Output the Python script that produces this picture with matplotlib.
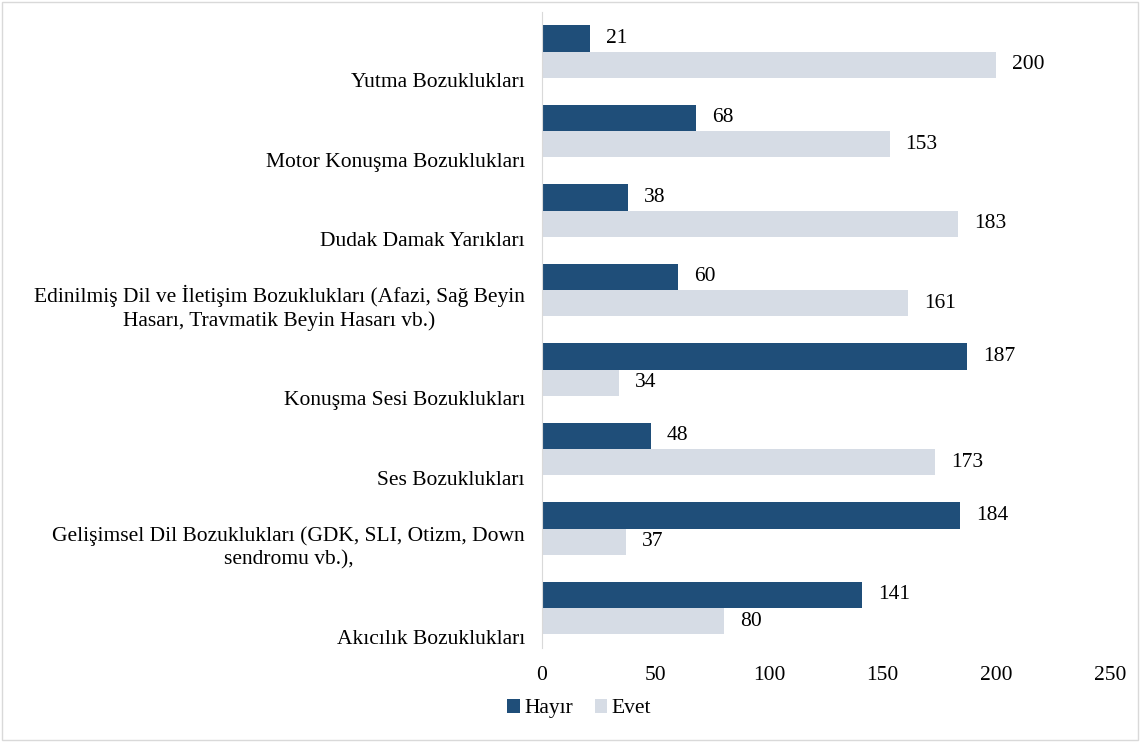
import matplotlib.pyplot as plt
import matplotlib.transforms as mtransforms
from matplotlib.patches import Rectangle

# Kategoriler (alttan üste)
kategoriler = [
    "Akıcılık Bozuklukları",
    "Gelişimsel Dil Bozuklukları (GDK, SLI, Otizm, Down\nsendromu vb.),",
    "Ses Bozuklukları",
    "Konuşma Sesi Bozuklukları",
    "Edinilmiş Dil ve İletişim Bozuklukları (Afazi, Sağ Beyin\nHasarı, Travmatik Beyin Hasarı vb.)",
    "Dudak Damak Yarıkları",
    "Motor Konuşma Bozuklukları",
    "Yutma Bozuklukları",
]
hayir = [141, 184, 48, 187, 60, 38, 68, 21]
evet = [80, 37, 173, 34, 161, 183, 153, 200]
x_ticks = [0, 50, 100, 150, 200, 250]

plt.rcParams['font.family'] = ['Liberation Serif', 'DejaVu Serif']
plt.rcParams['font.size'] = 15.5

fig = plt.figure(figsize=(11.4, 7.42), dpi=100)
ax = fig.add_axes([0.4754, 0.127, 0.4983, 0.857])

h = 0.33
y = list(range(len(kategoriler)))
ax.barh([i + h / 2 for i in y], hayir, height=h, color='#1f4e79', label='Hayır')
ax.barh([i - h / 2 for i in y], evet, height=h, color='#d6dce5', label='Evet')

# Değer etiketleri
for i in y:
    ax.annotate(str(hayir[i]), (hayir[i], i + h / 2), xytext=(11.5, 0),
                textcoords='offset points', va='center', ha='left')
    ax.annotate(str(evet[i]), (evet[i], i - h / 2), xytext=(11.5, 0),
                textcoords='offset points', va='center', ha='left')

ax.set_xlim(0, 250)
ax.set_ylim(-0.5, len(kategoriler) - 0.5)
ax.set_xticks(x_ticks)
ax.tick_params(axis='x', length=0, pad=13)
ax.set_yticks([])

# Kategori etiketleri, bandın alt kenarına yaslanmış
ofs = mtransforms.offset_copy(ax.transData, fig=fig, x=-17, y=-1, units='dots')
for i, k in enumerate(kategoriler):
    ax.text(0, i - 0.5, k, transform=ofs, ha='right', va='bottom',
            multialignment='center', linespacing=1.25)

for s in ['top', 'right', 'bottom']:
    ax.spines[s].set_visible(False)
ax.spines['left'].set_color('#d9d9d9')

leg = fig.legend(loc='center', bbox_to_anchor=(0.508, 0.045), ncol=2, frameon=False,
                 handlelength=0.6, handleheight=0.6, handletextpad=0.2, columnspacing=1.0)

fig.patches.append(Rectangle((0.002, 0.003), 0.996, 0.994, transform=fig.transFigure,
                             fill=False, edgecolor='#d9d9d9', linewidth=1))

fig.savefig('out.png', dpi=100)
